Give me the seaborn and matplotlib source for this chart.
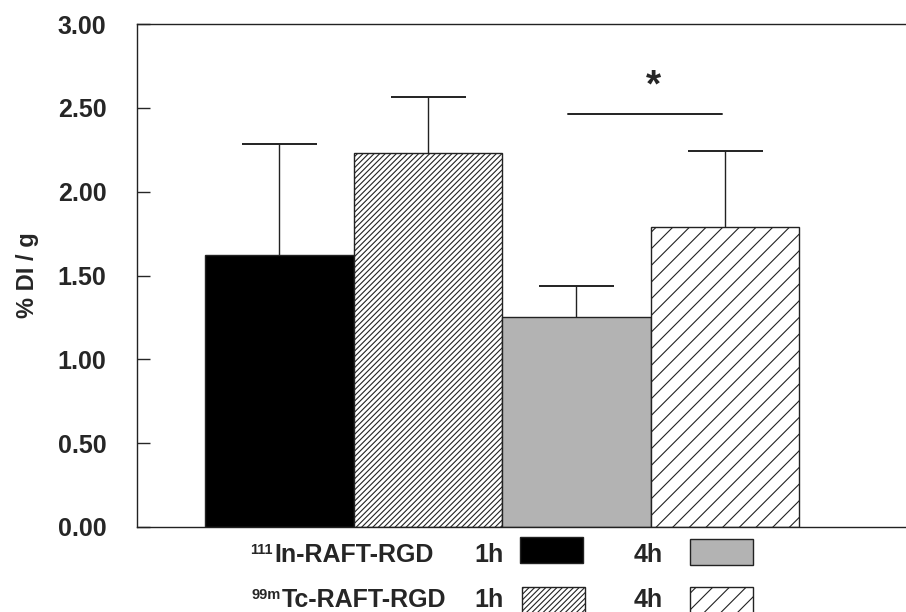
import matplotlib
matplotlib.use("Agg")
import numpy as np
import matplotlib.pyplot as plt
from matplotlib.patches import Rectangle
import seaborn as sns

# Data
groups = ["In 1h", "Tc 1h", "In 4h", "Tc 4h"]
uptake = [1.62, 2.23, 1.255, 1.79]
sd_upper = [0.665, 0.335, 0.18, 0.455]
bar_colors = ["#000000", "#ffffff", "#b3b3b3", "#ffffff"]
bar_hatches = ["", "//////", "", "//"]
yticks = [0.0, 0.5, 1.0, 1.5, 2.0, 2.5, 3.0]

# significance bracket between 4h bars
sig_span = [1.945, 2.98]
sig_y = 2.465
sig_star_y = 2.57

W, H = 906, 612

sns.set_style("ticks")
plt.rcParams["font.family"] = ["Liberation Sans", "DejaVu Sans"]
plt.rcParams["font.weight"] = "bold"
plt.rcParams["hatch.linewidth"] = 0.8

fig = plt.figure(figsize=(W / 100, H / 100), dpi=100)
ax = fig.add_axes([137 / W, 85 / H, 769 / W, 503 / H])

sns.barplot(x=groups, y=uptake, hue=groups, palette=bar_colors, legend=False,
            width=1.0, edgecolor="#222222", linewidth=1.0, ax=ax, zorder=2)
for patch, h in zip(ax.patches, bar_hatches):
    patch.set_hatch(h)

# upper error bars only
_, caps, _ = ax.errorbar(x=np.arange(len(groups)), y=uptake,
                         yerr=[np.zeros(len(groups)), sd_upper], fmt="none",
                         ecolor="#222222", elinewidth=1.0, capsize=27,
                         capthick=1.4, zorder=1)
caps[0].set_visible(False)

# significance
ax.plot(sig_span, [sig_y, sig_y], color="#222222", lw=1.4)
ax.text(np.mean(sig_span) + 0.06, sig_star_y, "*", ha="center", va="baseline",
        fontsize=28, fontweight="bold")

ax.set_xlim(-0.958, 4.22)
ax.set_ylim(0, 3.0)
ax.set_yticks(yticks)
ax.set_yticklabels([f"{v:.2f}" for v in yticks], fontsize=18, fontweight="bold")
ax.tick_params(axis="y", direction="in", length=9, width=1.0, pad=22)
ax.tick_params(axis="x", bottom=False, labelbottom=False)
ax.set_xlabel("")
ax.set_ylabel("% DI / g", fontsize=17, fontweight="bold")
ax.yaxis.set_label_coords(-0.128, 0.5)
for side in ["top", "left", "bottom"]:
    ax.spines[side].set_linewidth(1.0)
    ax.spines[side].set_color("#222222")
ax.spines["right"].set_visible(False)

# legend block below the axes (pixel positions)
def fx(px):
    return px / W

def fy(py):
    return 1 - py / H

rows = [("111", "In-RAFT-RGD", 562, 274), ("99m", "Tc-RAFT-RGD", 607, 282)]
for sup, name, base, xstart in rows:
    fig.text(fx(xstart - 1), fy(base - 8), sup, ha="right", va="baseline",
             fontsize=10.5, fontweight="bold")
    fig.text(fx(xstart), fy(base), name, ha="left", va="baseline",
             fontsize=18, fontweight="bold")
    fig.text(fx(474), fy(base), "1h", ha="left", va="baseline",
             fontsize=18, fontweight="bold")
    fig.text(fx(634), fy(base), "4h", ha="left", va="baseline",
             fontsize=18, fontweight="bold")

swatches = [(520, 537, 0), (690, 539, 2), (522, 587, 1), (690, 587, 3)]
for x0, y0, i in swatches:
    fig.patches.append(Rectangle((fx(x0), fy(y0 + 26)), 63 / W, 26 / H,
                                 transform=fig.transFigure, facecolor=bar_colors[i],
                                 edgecolor="#222222", linewidth=1.0,
                                 hatch=bar_hatches[i]))

fig.savefig("out.png", dpi=100)
